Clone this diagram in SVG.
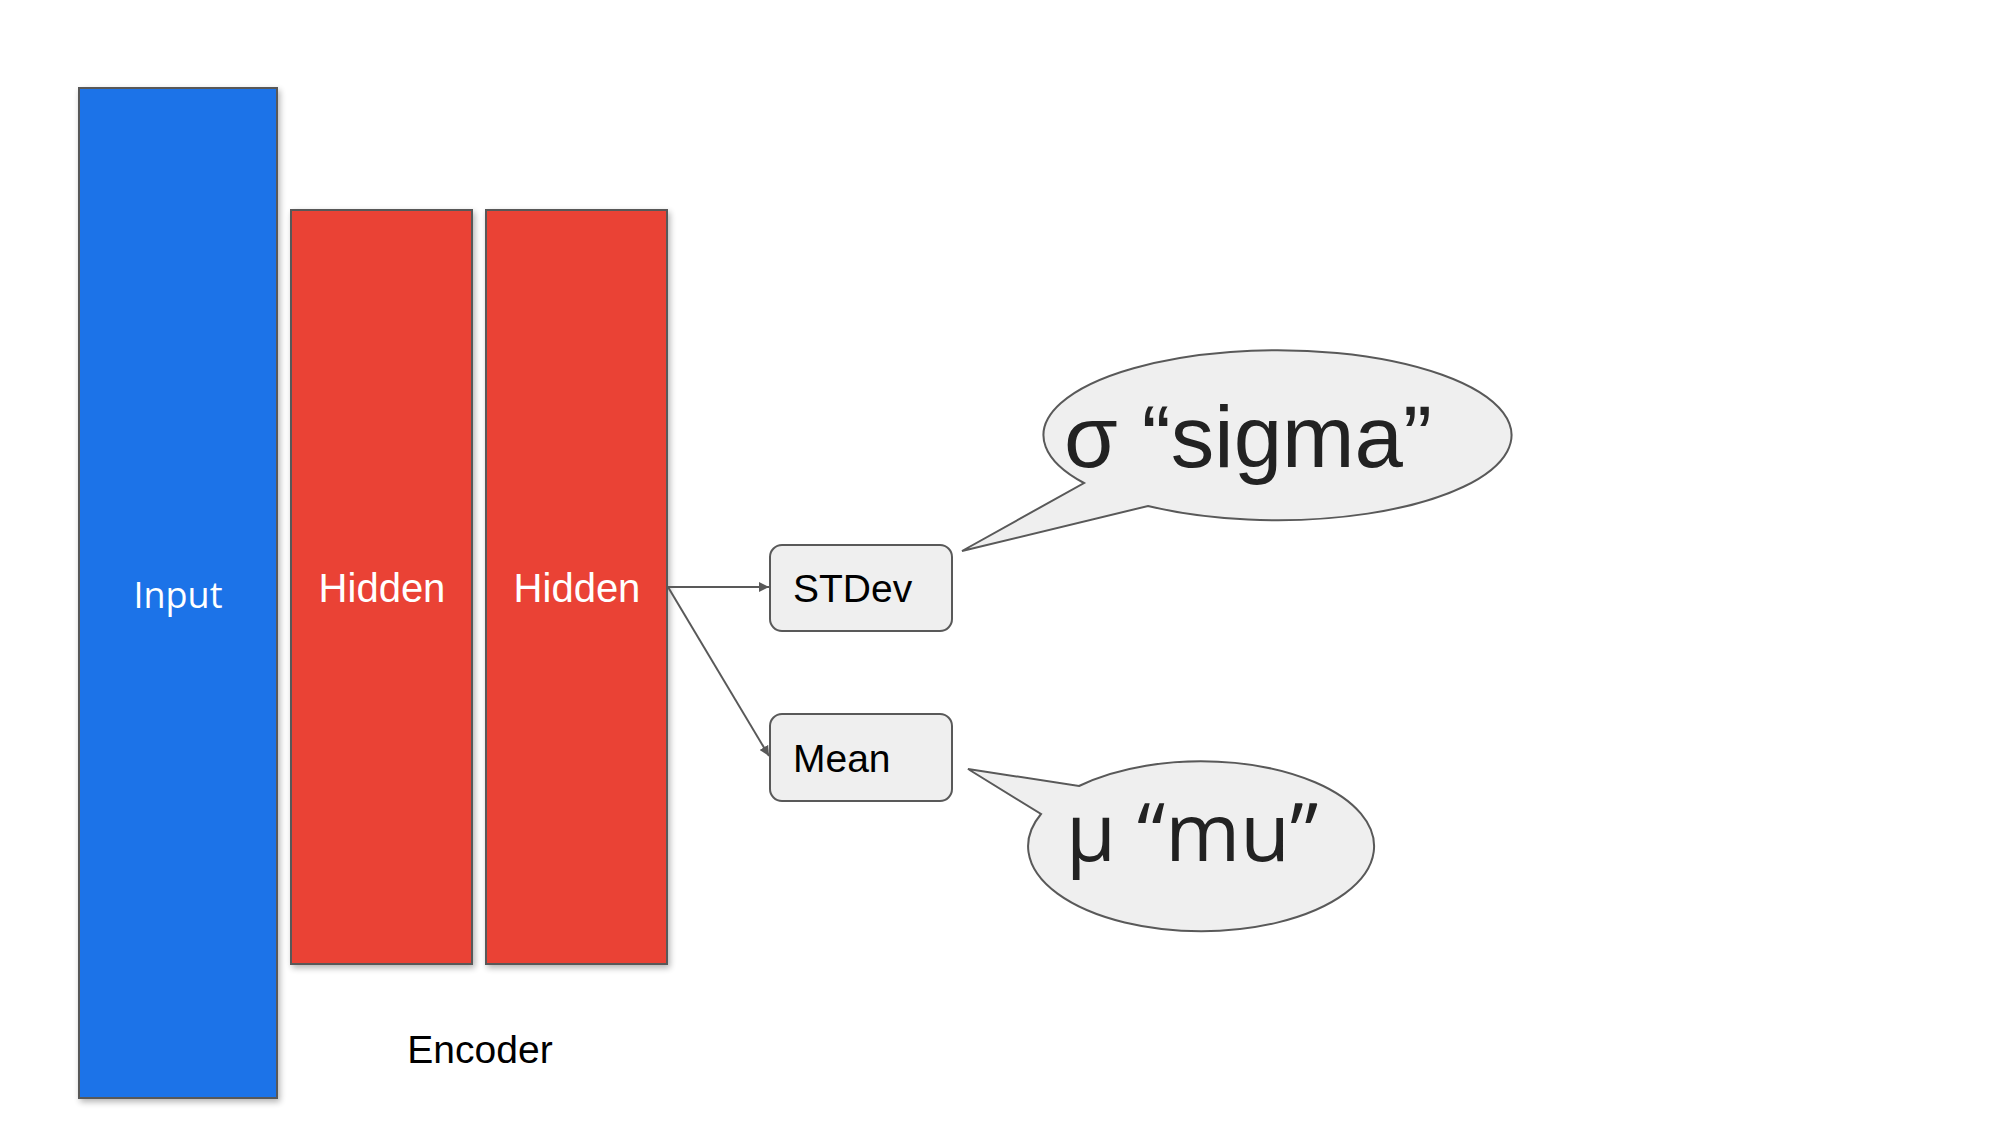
<svg xmlns="http://www.w3.org/2000/svg" width="2000" height="1125" viewBox="0 0 2000 1125">
<defs>
<style>
.layer{stroke:#595959;stroke-width:2}
.box{fill:#efefef;stroke:#595959;stroke-width:2}
.lbl{font-family:"Liberation Sans",Arial,sans-serif;font-size:39px;fill:#000}
.wl{font-family:"Liberation Sans",Arial,sans-serif;font-size:40px;fill:#fff;text-anchor:middle}
.conn{stroke:#595959;stroke-width:2;fill:none}
.bubble{fill:#efefef;stroke:#595959;stroke-width:2}
</style>
<filter id="sh" x="-10%" y="-10%" width="130%" height="130%">
<feGaussianBlur in="SourceAlpha" stdDeviation="3"/>
<feOffset dx="2" dy="3" result="b"/>
<feComponentTransfer><feFuncA type="linear" slope="0.3"/></feComponentTransfer>
<feMerge><feMergeNode/><feMergeNode in="SourceGraphic"/></feMerge>
</filter>
<marker id="ah" viewBox="0 0 10 10" refX="10" refY="5" markerWidth="5" markerHeight="5" orient="auto" markerUnits="strokeWidth">
<path d="M0,0 L10,5 L0,10 z" fill="#595959"/>
</marker>
</defs>
<rect width="2000" height="1125" fill="#fff"/>
<g id="input">
<rect class="layer" x="79" y="88" width="198" height="1010" fill="#1a73e8" filter="url(#sh)"/>
<text x="178" y="608" font-family="'Open Sans',sans-serif" font-size="36" fill="#fff" text-anchor="middle">Input</text>
</g>
<g id="hidden1">
<rect class="layer" x="291" y="210" width="181" height="754" fill="#ea4335" filter="url(#sh)"/>
<text class="wl" x="382" y="602">Hidden</text>
</g>
<g id="hidden2">
<rect class="layer" x="486" y="210" width="181" height="754" fill="#ea4335" filter="url(#sh)"/>
<text class="wl" x="577" y="602">Hidden</text>
</g>
<g id="encoder-label">
<text class="lbl" x="480" y="1063" text-anchor="middle">Encoder</text>
</g>
<g id="stdev">
<rect class="box" x="770" y="545" width="182" height="86" rx="12"/>
<text class="lbl" x="793" y="602">STDev</text>
</g>
<g id="mean">
<rect class="box" x="770" y="714" width="182" height="87" rx="12"/>
<text class="lbl" x="793" y="772">Mean</text>
</g>
<g id="connectors">
<line class="conn" x1="668" y1="587" x2="769" y2="587" marker-end="url(#ah)"/>
<line class="conn" x1="668" y1="587" x2="769" y2="756" marker-end="url(#ah)"/>
</g>
<g id="sigma">
<path class="bubble" d="M1084,483 A234,85 0 1 1 1148,506 L962,551 Z"/>
<text x="1064" y="467" font-family="'Liberation Sans',Arial,sans-serif" font-size="87" fill="#222">σ “sigma”</text>
</g>
<g id="mu">
<path class="bubble" d="M1079,786 A173,85 0 1 1 1041,814 L968,769 Z"/>
<text x="1066" y="861" font-family="'Open Sans',sans-serif" font-size="81" fill="#222">μ “mu”</text>
</g>
</svg>
